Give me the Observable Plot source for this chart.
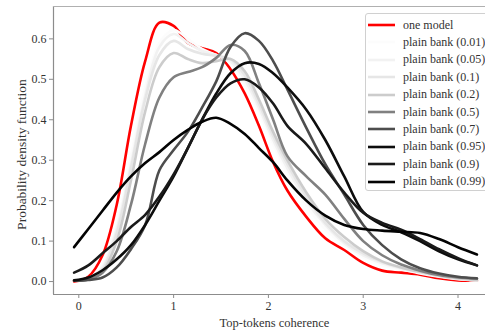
<!DOCTYPE html>
<html>
<head>
<meta charset="utf-8">
<script src="https://cdn.jsdelivr.net/npm/d3@7"></script>
<script src="https://cdn.jsdelivr.net/npm/@observablehq/plot@0.6"></script>
<style>
  html, body { margin: 0; padding: 0; background: #fff; }
  #wrap { position: relative; width: 485px; height: 330px; overflow: hidden; font-family: "Liberation Serif", "DejaVu Serif", serif; }
  #wrap svg, #wrap svg text { font-family: "Liberation Serif", "DejaVu Serif", serif !important; }
  #legend { position: absolute; left: 365px; top: 13px; width: 130px; height: 178px; border: 1px solid #d0d0d0; border-radius: 3px; background: rgba(255,255,255,0.85); box-sizing: border-box; }
  .row { position: absolute; left: 0; height: 17px; display: flex; align-items: center; font-size: 12px; color: #333; white-space: nowrap; }
  .row svg { margin-left: 2px; margin-right: 8px; }
</style>
</head>
<body>
<div id="wrap"></div>
<script>
// ---- data ----
const xs = [-0.05, 0.1, 0.25, 0.4, 0.55, 0.7, 0.85, 1.0, 1.15, 1.3, 1.45, 1.6, 1.75, 1.9, 2.05, 2.2, 2.4, 2.6, 2.8, 3.0, 3.2, 3.4, 3.6, 3.8, 4.0, 4.2];

const oneModel = [0.0, 0.012, 0.065, 0.19, 0.385, 0.545, 0.64, 0.632, 0.59, 0.577, 0.565, 0.525, 0.465, 0.385, 0.295, 0.225, 0.16, 0.107, 0.078, 0.046, 0.027, 0.022, 0.017, 0.008, 0.003, 0.002];
const bank001 = [0.002, 0.008, 0.04, 0.14, 0.31, 0.48, 0.59, 0.622, 0.6, 0.575, 0.56, 0.54, 0.49, 0.42, 0.34, 0.27, 0.19, 0.13, 0.09, 0.06, 0.04, 0.03, 0.02, 0.012, 0.006, 0.003];
const bank005 = [0.002, 0.007, 0.035, 0.13, 0.29, 0.46, 0.58, 0.612, 0.59, 0.57, 0.56, 0.545, 0.5, 0.43, 0.35, 0.28, 0.2, 0.14, 0.095, 0.065, 0.045, 0.032, 0.022, 0.013, 0.007, 0.003];
const bank01  = [0.002, 0.006, 0.03, 0.12, 0.28, 0.45, 0.56, 0.595, 0.575, 0.563, 0.558, 0.55, 0.51, 0.44, 0.36, 0.29, 0.21, 0.145, 0.1, 0.07, 0.048, 0.034, 0.023, 0.014, 0.007, 0.003];
const bank02  = [0.002, 0.005, 0.025, 0.1, 0.25, 0.42, 0.53, 0.565, 0.55, 0.54, 0.545, 0.55, 0.52, 0.45, 0.37, 0.3, 0.22, 0.155, 0.11, 0.075, 0.05, 0.035, 0.024, 0.015, 0.008, 0.004];
const bank05  = [0.002, 0.005, 0.022, 0.075, 0.19, 0.34, 0.455, 0.505, 0.518, 0.53, 0.553, 0.585, 0.57, 0.49, 0.4, 0.31, 0.26, 0.215, 0.155, 0.1, 0.065, 0.042, 0.027, 0.016, 0.01, 0.007];
const bank07  = [0.002, 0.004, 0.01, 0.035, 0.08, 0.14, 0.275, 0.325, 0.37, 0.43, 0.495, 0.58, 0.614, 0.595, 0.545, 0.475, 0.38, 0.29, 0.215, 0.14, 0.09, 0.055, 0.033, 0.02, 0.012, 0.008];
const bank095 = [0.003, 0.01, 0.028, 0.055, 0.09, 0.14, 0.2, 0.26, 0.33, 0.4, 0.465, 0.515, 0.54, 0.538, 0.515, 0.48, 0.425, 0.35, 0.26, 0.172, 0.14, 0.122, 0.1, 0.075, 0.055, 0.04];
const bank09  = [0.022, 0.04, 0.07, 0.1, 0.135, 0.165, 0.21, 0.265, 0.33, 0.4, 0.455, 0.49, 0.5, 0.48, 0.44, 0.385, 0.34, 0.28, 0.22, 0.17, 0.145, 0.128, 0.105, 0.08, 0.058, 0.04];
const bank099 = [0.085, 0.13, 0.175, 0.22, 0.26, 0.293, 0.32, 0.35, 0.375, 0.395, 0.405, 0.39, 0.365, 0.33, 0.295, 0.25, 0.2, 0.163, 0.14, 0.13, 0.126, 0.123, 0.12, 0.105, 0.085, 0.067];

const seriesNames = ["one model", "plain bank (0.01)", "plain bank (0.05)", "plain bank (0.1)", "plain bank (0.2)", "plain bank (0.5)", "plain bank (0.7)", "plain bank (0.95)", "plain bank (0.9)", "plain bank (0.99)"];
const seriesValues = [oneModel, bank001, bank005, bank01, bank02, bank05, bank07, bank095, bank09, bank099];
const seriesColors = ["#ff0000", "#fcfcfc", "#f2f2f2", "#e6e6e6", "#cccccc", "#808080", "#4d4d4d", "#0d0d0d", "#1a1a1a", "#030303"];

const xTicks = [0, 1, 2, 3, 4];
const yTicks = [0.0, 0.1, 0.2, 0.3, 0.4, 0.5, 0.6];
const xLabel = "Top-tokens coherence";
const yLabel = "Probability density function";

// ---- build table ----
const rows = [];
seriesNames.forEach((name, i) => {
  seriesValues[i].forEach((v, j) => rows.push({series: name, order: i, x: xs[j], y: v}));
});

const xDomain = [-0.267, 4.29];
const yDomain = [-0.032, 0.68];
const spine = "#8c8c8c";
const font = "Liberation Serif, DejaVu Serif, serif";

const chart = Plot.plot({
  width: 485,
  height: 330,
  marginLeft: 53,
  marginRight: 0,
  marginTop: 6,
  marginBottom: 36,
  style: {fontFamily: font, fontSize: "12px", color: "#333", background: "#fff"},
  x: {domain: xDomain, label: null},
  y: {domain: yDomain, label: null},
  marks: [
    Plot.ruleX([xDomain[0]], {stroke: spine, strokeWidth: 1.2}),
    Plot.ruleY([yDomain[0]], {stroke: spine, strokeWidth: 1.2}),
    Plot.ruleY([yDomain[1]], {stroke: "#b0b0b0", strokeWidth: 1.2}),
    Plot.axisX({ticks: xTicks, tickSize: 4, tickPadding: 3, stroke: spine, fill: "#333", fontSize: 12, label: null, tickFormat: d3.format("d")}),
    Plot.axisY({ticks: yTicks, tickSize: 4, tickPadding: 3, stroke: spine, fill: "#333", fontSize: 12, label: null, tickFormat: d3.format(".1f")}),
    ...seriesNames.map((name, i) =>
      Plot.line(rows.filter(d => d.series === name), {x: "x", y: "y", stroke: seriesColors[i], strokeWidth: 2.6, curve: "catmull-rom"})
    ),
    Plot.text([xLabel], {frameAnchor: "bottom", dx: 5, dy: 28, lineAnchor: "middle", textAnchor: "middle", fontSize: 12.5, fill: "#333"}),
    Plot.text([yLabel], {frameAnchor: "left", dx: -32, dy: 4, rotate: -90, textAnchor: "middle", lineAnchor: "middle", fontSize: 13.5, fill: "#333"})
  ]
});

const wrap = document.getElementById("wrap");
wrap.appendChild(chart);

// ---- legend ----
const legend = document.createElement("div");
legend.id = "legend";
seriesNames.forEach((name, i) => {
  const r = document.createElement("div");
  r.className = "row";
  r.style.top = (2.5 + i * 17.4) + "px";
  r.innerHTML = `<svg width="27" height="6"><line x1="0" x2="27" y1="3" y2="3" stroke="${seriesColors[i]}" stroke-width="2.6"/></svg><span>${name}</span>`;
  legend.appendChild(r);
});
wrap.appendChild(legend);
</script>
</body>
</html>
